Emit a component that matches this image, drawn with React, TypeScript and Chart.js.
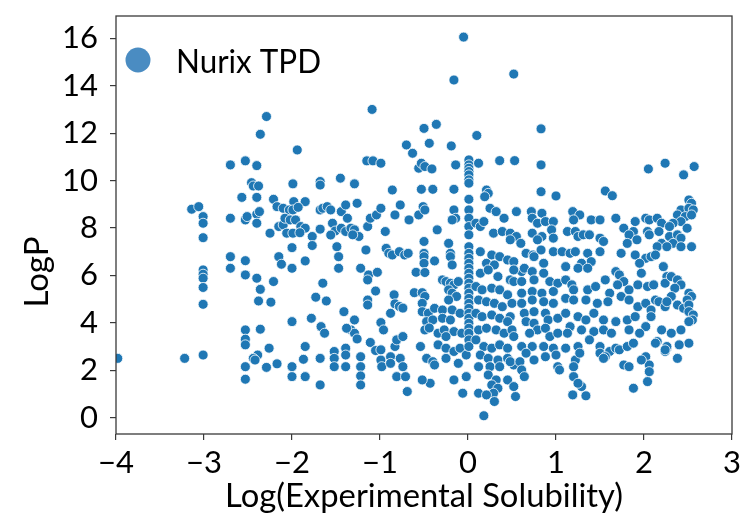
import React, { useEffect, useRef } from "react";
import { Chart, registerables } from "chart.js";

Chart.register(...registerables);

const seriesName = "Nurix TPD";
const xAxisTitle = "Log(Experimental Solubility)";
const yAxisTitle = "LogP";
const xTickValues = [-4, -3, -2, -1, 0, 1, 2, 3];
const xTickLabels = ["\u22124", "\u22123", "\u22122", "\u22121", "0", "1", "2", "3"];
const yTickValues = [0, 2, 4, 6, 8, 10, 12, 14, 16];
const yTickLabels = ["0", "2", "4", "6", "8", "10", "12", "14", "16"];
const xRange = [-4, 3];
const yRange = [-0.69, 16.94];

// [Log(Experimental Solubility), LogP]
const points: [number, number][] = [
  [-3.98, 2.5], [-3.22, 2.5], [-3.01, 2.64], [-3.14, 8.79], [-3.06, 8.9], [-3.01, 8.48], [-3.01, 8.2],
  [-3.01, 7.59], [-3.01, 6.23], [-3.01, 6.05], [-3.01, 5.88], [-3.01, 5.49], [-3.01, 4.78],
  [-2.7, 10.66], [-2.53, 10.83], [-2.4, 10.63], [-2.46, 9.91], [-2.44, 9.77], [-2.38, 9.77], [-2.57, 9.29],
  [-2.4, 9.29], [-2.7, 8.41], [-2.53, 8.34], [-2.51, 8.48], [-2.4, 8.58], [-2.37, 8.69], [-2.4, 8.2],
  [-2.36, 11.95], [-2.29, 12.7], [-2.21, 9.21], [-2.25, 7.78], [-2.17, 8.9], [-2.15, 8.06], [-2.1, 8.13],
  [-2.7, 6.79], [-2.7, 6.3], [-2.53, 6.62], [-2.53, 6.02], [-2.4, 5.88], [-2.36, 5.41], [-2.38, 4.92],
  [-2.24, 4.87], [-2.21, 5.74], [-2.53, 3.7], [-2.36, 3.73], [-2.53, 3.31], [-2.53, 3.07], [-2.39, 2.64],
  [-2.44, 2.5], [-2.42, 2.43], [-2.26, 2.93], [-2.53, 2.15], [-2.53, 1.62], [-2.29, 2.12], [-2.17, 2.27],
  [-1.94, 11.29], [-1.99, 9.86], [-1.68, 9.96], [-1.68, 9.81], [-1.45, 10.1], [-1.29, 9.86], [-1.98, 9.11],
  [-1.85, 9.11], [-2.1, 8.83], [-2.03, 8.76], [-1.99, 8.76], [-1.93, 8.87], [-2.08, 8.41], [-2.02, 8.34],
  [-1.96, 8.34], [-1.9, 8.06], [-1.85, 7.99], [-2.06, 7.78], [-1.99, 7.78], [-1.91, 7.8], [-2.0, 7.17],
  [-1.77, 7.64], [-1.77, 7.26], [-1.68, 8.76], [-1.65, 8.83], [-1.6, 8.9], [-1.56, 8.76], [-1.68, 7.95],
  [-1.54, 8.2], [-1.51, 7.87], [-1.56, 7.7], [-2.15, 6.79], [-2.12, 6.47], [-2.0, 6.3], [-1.85, 6.61],
  [-1.49, 7.21], [-1.47, 6.79], [-1.47, 6.3], [-1.65, 5.67], [-1.73, 5.08], [-1.61, 4.92], [-2.0, 4.05],
  [-1.78, 4.19], [-1.67, 3.84], [-1.63, 3.56], [-1.85, 3.0], [-1.87, 2.46], [-1.68, 2.5], [-2.0, 2.15],
  [-2.0, 1.73], [-1.85, 1.73], [-1.68, 1.38], [-1.52, 2.79], [-1.52, 2.5], [-1.52, 2.15],
  [-1.44, 8.69], [-1.39, 8.97], [-1.26, 9.04], [-1.37, 8.41], [-1.44, 7.99], [-1.39, 7.85], [-1.33, 7.99],
  [-1.29, 7.92], [-1.24, 7.64], [-1.31, 7.71], [-1.14, 8.06], [-1.11, 8.41], [-1.04, 8.55], [-0.99, 8.83],
  [-1.16, 7.07], [-1.22, 6.3], [-1.13, 6.02], [-1.03, 6.13], [-1.14, 5.81], [-1.05, 5.34], [-1.14, 4.96],
  [-1.14, 4.75], [-1.41, 4.47], [-1.29, 4.12], [-1.33, 3.7], [-1.29, 3.56], [-1.26, 3.32], [-1.38, 3.77],
  [-1.39, 2.93], [-1.39, 2.64], [-1.39, 2.15], [-1.22, 2.57], [-1.22, 2.15], [-1.22, 1.76], [-1.22, 1.38],
  [-1.11, 3.17], [-1.05, 2.83], [-0.99, 2.43], [-0.98, 2.15], [-0.99, 4.01], [-0.96, 3.7], [-0.93, 7.14],
  [-0.9, 6.93], [-0.86, 6.86], [-0.78, 7.0], [-0.72, 6.86], [-0.68, 6.93], [-0.94, 7.85], [-0.86, 9.6],
  [-0.83, 8.55], [-0.77, 8.97], [-1.15, 10.83], [-1.08, 10.83], [-0.99, 10.73], [-1.09, 13.0], [-0.84, 5.18],
  [-0.83, 4.8], [-0.78, 4.69], [-0.74, 4.62], [-0.88, 4.4], [-0.99, 2.86], [-0.88, 2.57], [-0.88, 2.29],
  [-0.83, 3.0], [-0.81, 3.28], [-0.74, 3.42], [-0.81, 1.73], [-0.71, 1.73], [-0.69, 1.1], [-0.77, 2.5],
  [-0.74, 2.15],
  [-0.7, 11.5], [-0.63, 11.15], [-0.5, 12.2], [-0.44, 11.57], [-0.36, 12.37], [-0.56, 10.52], [-0.53, 10.73],
  [-0.49, 10.59], [-0.41, 10.49], [-0.19, 11.46], [-0.14, 10.66], [-0.53, 9.63], [-0.4, 9.63], [-0.16, 9.63],
  [-0.67, 8.34], [-0.56, 8.55], [-0.51, 8.9], [-0.49, 8.76], [-0.35, 7.92], [-0.5, 7.43], [-0.5, 6.93],
  [-0.5, 6.79], [-0.5, 6.51], [-0.38, 6.61], [-0.59, 6.13], [-0.49, 6.12], [-0.61, 5.27], [-0.52, 5.27],
  [-0.49, 5.11], [-0.52, 4.82], [-0.16, 8.76], [-0.14, 8.41], [-0.18, 8.34], [-0.22, 7.35], [-0.2, 6.93],
  [-0.2, 6.79], [-0.18, 6.44], [-0.29, 5.81], [-0.25, 5.74], [-0.2, 5.67], [-0.16, 5.6], [-0.11, 5.74],
  [-0.22, 5.39], [-0.18, 5.25], [-0.13, 5.11], [-0.22, 4.96], [-0.52, 4.47], [-0.45, 4.4], [-0.38, 4.61],
  [-0.29, 4.54], [-0.18, 4.54], [-0.09, 4.4], [-0.47, 4.05], [-0.4, 4.12], [-0.29, 4.19], [-0.2, 4.12],
  [-0.49, 3.7], [-0.44, 3.78], [-0.34, 3.56], [-0.27, 3.7], [-0.16, 3.63], [-0.07, 3.56], [-0.25, 3.42],
  [-0.54, 3.0], [-0.34, 3.07], [-0.25, 2.93], [-0.16, 2.79], [-0.09, 2.93], [-0.47, 2.5], [-0.4, 2.36],
  [-0.38, 2.22], [-0.25, 2.5], [-0.11, 2.29], [-0.02, 2.64], [-0.43, 1.45], [-0.52, 1.59], [-0.16, 1.59],
  [-0.02, 1.73], [-0.06, 1.03], [-0.16, 14.24], [-0.05, 16.05],
  [0.01, 10.87], [0.01, 10.66], [0.01, 10.52], [0.01, 10.38], [0.01, 10.24], [0.01, 10.03], [0.01, 9.89],
  [0.01, 9.21], [0.01, 8.76], [0.01, 8.41], [0.01, 8.06], [0.01, 7.71], [0.01, 7.21], [0.01, 6.93],
  [0.01, 6.72], [0.01, 6.51], [0.01, 6.3], [0.01, 6.09], [0.01, 5.88], [0.01, 5.67], [0.01, 5.46],
  [0.01, 5.25], [0.01, 5.03], [0.01, 4.82], [0.01, 4.61], [0.01, 4.4], [0.01, 4.19], [0.01, 3.98],
  [0.01, 3.77], [0.01, 3.56], [0.01, 3.28], [0.01, 3.0], [0.1, 11.9], [0.12, 10.73],
  [0.36, 10.84], [0.53, 10.84], [0.21, 9.6], [0.23, 9.46], [0.19, 9.32], [0.09, 8.2], [0.14, 8.06],
  [0.18, 8.27], [0.29, 7.78], [0.39, 7.85], [0.48, 7.78], [0.55, 7.64], [0.48, 7.5], [0.25, 8.83],
  [0.32, 8.69], [0.41, 8.41], [0.55, 8.69], [0.14, 7.0], [0.27, 6.86], [0.36, 6.79], [0.45, 6.65],
  [0.52, 6.58], [0.21, 6.51], [0.3, 6.44], [0.14, 6.09], [0.23, 6.23], [0.34, 5.95], [0.48, 5.81],
  [0.52, 5.74], [0.61, 6.16], [0.09, 5.53], [0.16, 5.39], [0.27, 5.46], [0.36, 5.39], [0.45, 5.18],
  [0.12, 4.96], [0.21, 4.89], [0.3, 4.82], [0.39, 4.68], [0.5, 4.82], [0.09, 4.4], [0.16, 4.26],
  [0.27, 4.33], [0.36, 4.19], [0.48, 4.26], [0.45, 4.05], [0.12, 3.7], [0.21, 3.77], [0.32, 3.7],
  [0.41, 3.56], [0.5, 3.7], [0.52, 3.42], [0.09, 3.28], [0.18, 3.0], [0.27, 2.93], [0.36, 3.07],
  [0.45, 2.93], [0.14, 2.64], [0.23, 2.5], [0.34, 2.43], [0.45, 2.5], [0.52, 2.22], [0.12, 2.15],
  [0.25, 2.15], [0.36, 2.15], [0.48, 2.36], [0.23, 1.8], [0.32, 1.59], [0.27, 1.38], [0.34, 1.24],
  [0.29, 1.03], [0.3, 0.68], [0.45, 1.59], [0.52, 1.31], [0.12, 1.03], [0.21, 0.96], [0.54, 0.89],
  [0.18, 0.08], [0.52, 14.49],
  [0.83, 12.18], [0.83, 10.66], [0.83, 9.53], [1.0, 9.35], [0.72, 8.69], [0.84, 8.62], [0.73, 8.41],
  [0.79, 8.2], [0.88, 8.27], [0.97, 8.27], [0.95, 7.92], [0.73, 7.78], [0.84, 7.64], [0.97, 7.57],
  [0.79, 7.5], [0.6, 7.35], [0.66, 6.93], [0.74, 6.86], [0.83, 7.07], [0.97, 7.0], [0.86, 6.51],
  [0.75, 6.79], [0.52, 6.23], [0.64, 6.3], [0.73, 6.16], [0.86, 6.09], [0.61, 5.74], [0.75, 5.81],
  [0.93, 5.74], [1.02, 5.67], [0.61, 5.25], [0.73, 5.32], [0.84, 5.25], [0.97, 5.32], [0.73, 4.96],
  [0.86, 4.89], [0.97, 4.82], [0.61, 4.82], [0.64, 4.4], [0.75, 4.47], [0.88, 4.4], [0.66, 4.05],
  [0.75, 3.98], [0.91, 4.12], [1.02, 4.19], [0.79, 3.7], [0.88, 3.77], [0.7, 3.56], [0.93, 3.42],
  [1.02, 3.56], [0.61, 3.0], [0.73, 3.0], [0.86, 3.0], [0.97, 2.93], [0.66, 2.72], [0.88, 2.57],
  [1.0, 2.64], [0.59, 2.36], [0.75, 2.43], [0.61, 2.01], [0.64, 1.73], [1.02, 2.15], [1.04, 2.01],
  [1.19, 8.69], [1.27, 8.55], [1.2, 8.34], [1.13, 7.85], [1.22, 7.85], [1.25, 7.64], [1.31, 7.71],
  [1.4, 8.34], [1.5, 8.34], [1.38, 7.71], [1.5, 7.57], [1.54, 7.43], [1.56, 9.56], [1.64, 9.36],
  [1.07, 7.0], [1.16, 6.93], [1.22, 7.0], [1.36, 6.93], [1.4, 6.58], [1.5, 7.0], [1.29, 6.51],
  [1.11, 6.37], [1.25, 6.3], [1.36, 6.3], [1.11, 5.81], [1.18, 5.6], [1.2, 5.39], [1.36, 5.39],
  [1.45, 5.53], [1.56, 5.81], [1.61, 5.25], [1.11, 5.03], [1.2, 4.96], [1.34, 4.96], [1.47, 4.82],
  [1.59, 4.89], [1.11, 4.4], [1.25, 4.26], [1.34, 4.12], [1.43, 4.4], [1.54, 4.12], [1.16, 3.84],
  [1.29, 3.7], [1.43, 3.63], [1.13, 3.56], [1.54, 3.7], [1.63, 3.56], [1.11, 2.93], [1.25, 3.0],
  [1.38, 3.28], [1.5, 3.0], [1.61, 2.79], [1.22, 2.43], [1.27, 2.72], [1.5, 2.72], [1.56, 2.57],
  [1.2, 2.15], [1.2, 1.73], [1.29, 1.31], [1.19, 0.96], [1.34, 0.92], [1.25, 1.45], [1.54, 2.5],
  [1.68, 8.41], [1.77, 7.99], [1.88, 7.85], [1.9, 8.27], [2.02, 8.41], [2.06, 8.34], [2.15, 8.41],
  [2.2, 8.2], [1.83, 7.71], [1.92, 7.5], [2.05, 10.49], [2.24, 10.73], [2.04, 7.85], [2.06, 7.71],
  [2.17, 7.85], [2.2, 7.35], [2.15, 7.21], [1.81, 7.35], [1.74, 6.93], [1.9, 6.86], [2.02, 6.72],
  [2.08, 6.79], [1.95, 6.51], [2.22, 6.37], [2.13, 6.86], [1.68, 6.16], [1.72, 6.02], [1.77, 5.74],
  [1.7, 5.6], [1.83, 5.39], [1.97, 6.09], [1.93, 5.6], [2.04, 5.53], [2.11, 5.6], [2.26, 5.95],
  [2.24, 5.67], [1.74, 5.11], [1.83, 4.96], [1.93, 4.68], [2.02, 4.82], [2.13, 4.96], [2.17, 4.89],
  [2.24, 4.68], [2.08, 4.54], [1.68, 4.05], [1.81, 4.12], [1.9, 4.26], [2.02, 3.84], [2.08, 4.26],
  [2.2, 3.7], [1.95, 3.56], [1.83, 3.7], [2.15, 3.21], [1.68, 2.93], [1.72, 2.86], [1.81, 3.0],
  [1.88, 3.14], [2.02, 2.57], [2.06, 2.22], [2.06, 1.94], [2.04, 1.52], [1.88, 1.24], [1.77, 2.22],
  [1.83, 2.15], [2.13, 3.14], [2.26, 2.93], [2.24, 2.79], [1.97, 2.43],
  [2.45, 10.24], [2.57, 10.59], [2.51, 9.18], [2.54, 9.04], [2.42, 8.76], [2.38, 8.55], [2.51, 8.83],
  [2.56, 8.76], [2.47, 8.48], [2.54, 8.55], [2.42, 8.27], [2.33, 8.2], [2.29, 8.06], [2.29, 7.64],
  [2.38, 7.71], [2.42, 7.57], [2.33, 7.35], [2.26, 7.21], [2.42, 7.21], [2.54, 7.21], [2.49, 7.99],
  [2.31, 5.95], [2.38, 5.81], [2.42, 5.6], [2.35, 5.46], [2.51, 5.25], [2.54, 5.11], [2.49, 4.96],
  [2.31, 5.11], [2.26, 4.89], [2.38, 4.75], [2.45, 4.61], [2.51, 4.75], [2.51, 4.47], [2.56, 4.33],
  [2.55, 4.12], [2.51, 4.05], [2.42, 3.7], [2.31, 3.56], [2.51, 3.14], [2.4, 3.07], [2.26, 3.0],
  [2.24, 2.86], [2.38, 2.5],
];

const FONT = "Lato, 'Open Sans', 'DejaVu Sans', sans-serif";
const TEXT_COLOR = "#000000";
const POINT_COLOR = "#1f77b4";
const LEGEND_COLOR = "#4a8cc2";
const FRAME_COLOR = "#3a3a3a";

function drawFitted(
  ctx: CanvasRenderingContext2D,
  text: string,
  x: number,
  y: number,
  size: number,
  width: number,
  align: CanvasTextAlign,
  angle = 0
) {
  ctx.save();
  ctx.font = `${size}px ${FONT}`;
  const measured = ctx.measureText(text).width;
  ctx.translate(x, y);
  if (angle) ctx.rotate(angle);
  ctx.scale(width / measured, 1);
  ctx.textAlign = align;
  ctx.textBaseline = "alphabetic";
  ctx.fillStyle = TEXT_COLOR;
  ctx.fillText(text, 0, 0);
  ctx.restore();
}

const decorations = {
  id: "decorations",
  afterDraw(chart: any) {
    const { ctx, chartArea: a } = chart;
    ctx.save();
    ctx.strokeStyle = FRAME_COLOR;
    ctx.lineWidth = 1.3;
    ctx.strokeRect(a.left, a.top, a.right - a.left, a.bottom - a.top);
    // legend
    ctx.beginPath();
    ctx.fillStyle = LEGEND_COLOR;
    ctx.arc(a.left + 22, a.top + 44, 12.5, 0, Math.PI * 2);
    ctx.fill();
    ctx.restore();
    drawFitted(ctx, seriesName, a.left + 60, a.top + 57, 33, 145, "left");
    // axis titles
    drawFitted(ctx, xAxisTitle, (a.left + a.right) / 2, 507, 33, 398, "center");
    drawFitted(ctx, yAxisTitle, 48, 272, 32, 71, "center", -Math.PI / 2);
  },
};

export default function App() {
  const ref = useRef<HTMLCanvasElement | null>(null);
  useEffect(() => {
    if (!ref.current) return;
    const chart = new Chart(ref.current, {
      type: "scatter",
      data: {
        datasets: [
          {
            label: seriesName,
            data: points.map(([x, y]) => ({ x, y })),
            backgroundColor: POINT_COLOR,
            borderColor: "#ffffff",
            borderWidth: 0.8,
            pointRadius: 5,
            pointHoverRadius: 5,
            clip: 0,
          },
        ],
      },
      options: {
        animation: false,
        responsive: false,
        devicePixelRatio: 1,
        events: [],
        layout: { padding: { top: 16, right: 9, left: 0, bottom: 0 } },
        plugins: { legend: { display: false }, tooltip: { enabled: false }, title: { display: false } },
        scales: {
          x: {
            type: "linear",
            position: "bottom",
            min: xRange[0],
            max: xRange[1],
            border: { display: false },
            grid: {
              display: true,
              drawOnChartArea: false,
              drawTicks: true,
              tickLength: 6,
              color: FRAME_COLOR,
              lineWidth: 1.2,
            },
            ticks: {
              autoSkip: false,
              maxRotation: 0,
              padding: 4,
              color: TEXT_COLOR,
              font: { family: FONT, size: 31 },
              callback: (_v: any, i: number) => xTickLabels[i],
            },
            afterBuildTicks: (s: any) => {
              s.ticks = xTickValues.map((v) => ({ value: v }));
            },
            afterFit: (s: any) => {
              s.height = 82;
              s.paddingLeft = 0;
              s.paddingRight = 0;
            },
          },
          y: {
            type: "linear",
            position: "left",
            min: yRange[0],
            max: yRange[1],
            border: { display: false },
            grid: {
              display: true,
              drawOnChartArea: false,
              drawTicks: true,
              tickLength: 6,
              color: FRAME_COLOR,
              lineWidth: 1.2,
            },
            ticks: {
              autoSkip: false,
              padding: 12,
              color: TEXT_COLOR,
              font: { family: FONT, size: 31 },
              callback: (_v: any, i: number) => yTickLabels[i],
            },
            afterBuildTicks: (s: any) => {
              s.ticks = yTickValues.map((v) => ({ value: v }));
            },
            afterFit: (s: any) => {
              s.width = 116;
              s.paddingTop = 0;
              s.paddingBottom = 0;
            },
          },
        },
      },
      plugins: [decorations],
    });
    return () => chart.destroy();
  }, []);
  return (
    <div style={{ position: "fixed", left: 0, top: 0, width: 741, height: 516, background: "#ffffff" }}>
      <canvas ref={ref} width={741} height={516} style={{ display: "block" }} />
    </div>
  );
}
